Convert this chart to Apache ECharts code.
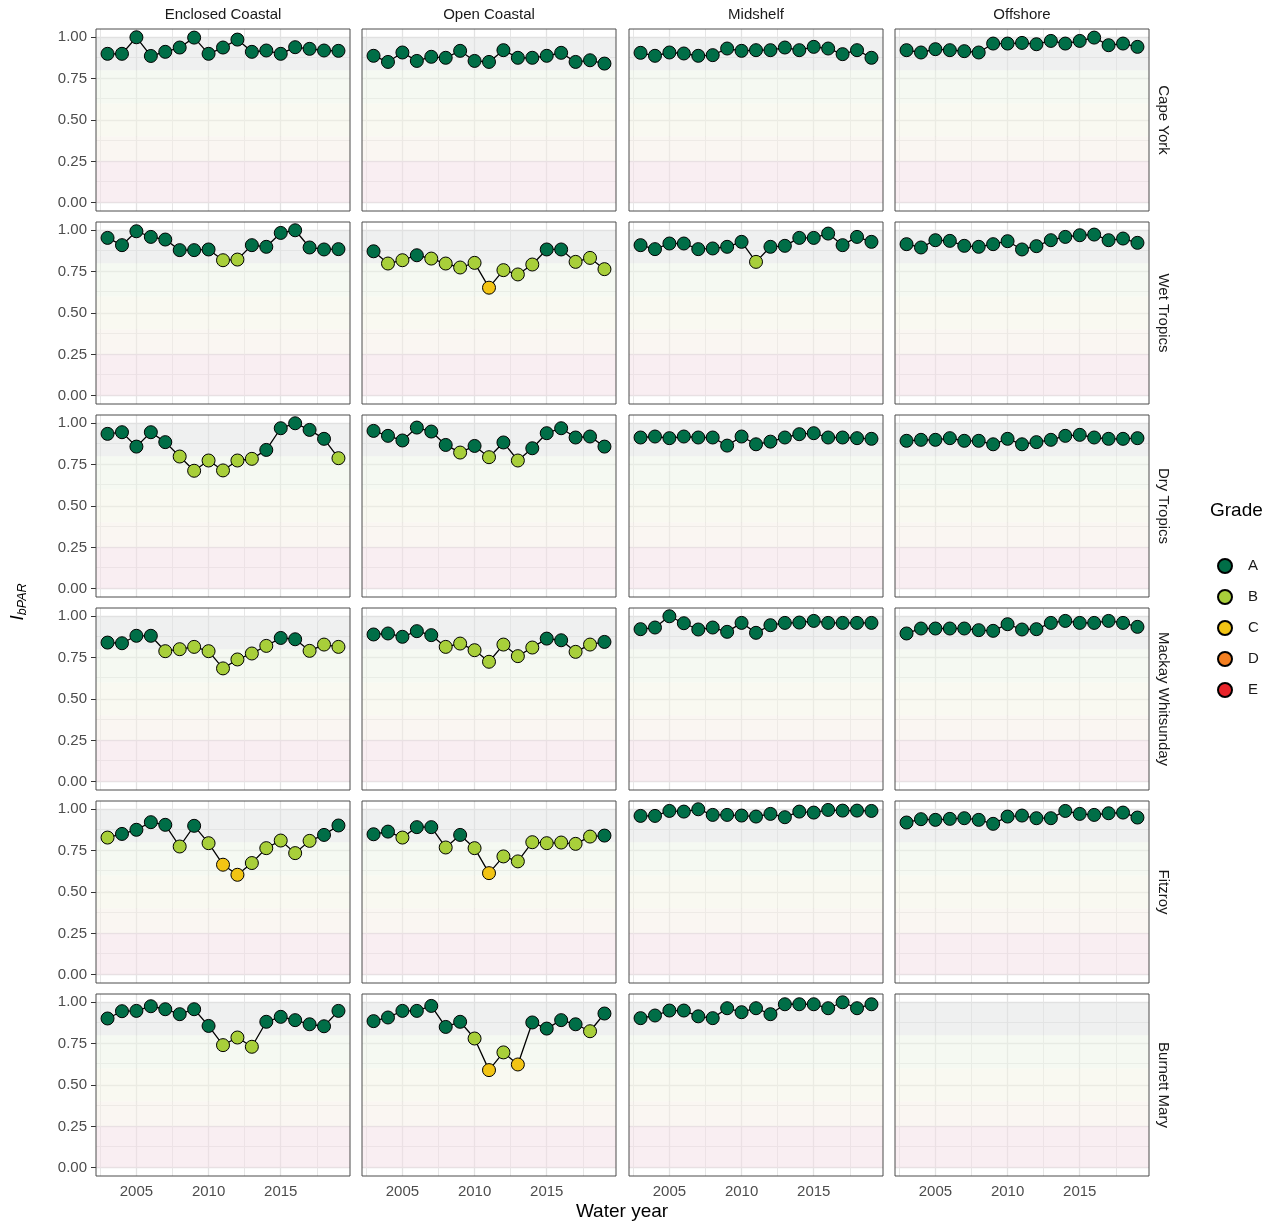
<!DOCTYPE html>
<html><head><meta charset="utf-8">
<script src="https://cdn.jsdelivr.net/npm/echarts@6/dist/echarts.min.js"></script>
<style>html,body{margin:0;padding:0;background:#fff}#c{width:1274px;height:1225px}</style>
</head><body><div id="c"></div>
<script>
// ---------- data ----------
const years = [2003,2004,2005,2006,2007,2008,2009,2010,2011,2012,2013,2014,2015,2016,2017,2018,2019];
const regions = ['Cape York','Wet Tropics','Dry Tropics','Mackay Whitsunday','Fitzroy','Burnett Mary'];
const shelves = ['Enclosed Coastal','Open Coastal','Midshelf','Offshore'];
const yTicks = [0, 0.25, 0.5, 0.75, 1];
const yMinor = [0.125, 0.375, 0.625, 0.875];
const xTicks = [2005, 2010, 2015];
const xMinor = [2002.5, 2007.5, 2012.5, 2017.5];
const gradeNames = ['A','B','C','D','E'];
const gradeColors = ['#006e47','#a8cf3a','#f2c414','#f47f20','#e8242a'];
const bandLo = [0.8, 0.6, 0.4, 0.25, 0];
const bandHi = [1.0, 0.8, 0.6, 0.4, 0.25];
const bandColors = ['rgba(224,226,226,0.5)','rgba(235,243,229,0.5)','rgba(243,243,227,0.5)','rgba(245,237,229,0.5)','rgba(243,221,229,0.5)'];

const CY_EC = [0.90,0.90,1.00,0.887,0.912,0.938,0.998,0.90,0.938,0.986,0.912,0.92,0.90,0.94,0.93,0.92,0.918];
const CY_EC_G = 'AAAAAAAAAAAAAAAAA';
const CY_OC = [0.888,0.851,0.908,0.857,0.882,0.876,0.918,0.857,0.851,0.922,0.876,0.876,0.888,0.906,0.851,0.861,0.841];
const CY_OC_G = 'AAAAAAAAAAAAAAAAA';
const CY_MS = [0.906,0.888,0.908,0.902,0.888,0.892,0.932,0.918,0.922,0.922,0.938,0.922,0.942,0.932,0.898,0.922,0.876];
const CY_MS_G = 'AAAAAAAAAAAAAAAAA';
const CY_OS = [0.922,0.908,0.928,0.922,0.916,0.908,0.962,0.962,0.966,0.958,0.978,0.962,0.978,0.998,0.952,0.962,0.942];
const CY_OS_G = 'AAAAAAAAAAAAAAAAA';

const WT_EC = [0.954,0.910,0.994,0.960,0.944,0.880,0.880,0.884,0.819,0.823,0.910,0.900,0.984,1.000,0.896,0.884,0.886];
const WT_EC_G = 'AAAAAAAABBAAAAAAA';
const WT_OC = [0.873,0.799,0.819,0.849,0.829,0.799,0.775,0.803,0.653,0.759,0.733,0.793,0.884,0.884,0.809,0.833,0.765];
const WT_OC_G = 'ABBABBBBCBBBAABBB';
const WT_MS = [0.910,0.886,0.920,0.920,0.886,0.890,0.900,0.930,0.809,0.900,0.906,0.954,0.954,0.980,0.910,0.960,0.930];
const WT_MS_G = 'AAAAAAAABAAAAAAAA';
const WT_OS = [0.916,0.896,0.940,0.936,0.906,0.900,0.916,0.934,0.884,0.904,0.940,0.960,0.970,0.974,0.940,0.950,0.924];
const WT_OS_G = 'AAAAAAAAAAAAAAAAA';

const DT_EC = [0.936,0.946,0.859,0.946,0.886,0.799,0.713,0.775,0.715,0.775,0.785,0.839,0.970,1.000,0.960,0.906,0.789];
const DT_EC_G = 'AAAAABBBBBBAAAAAB';
const DT_OC = [0.954,0.924,0.896,0.974,0.950,0.869,0.823,0.863,0.795,0.884,0.775,0.849,0.940,0.970,0.914,0.920,0.859];
const DT_OC_G = 'AAAAAABABABAAAAAA';
const DT_MS = [0.914,0.920,0.910,0.920,0.914,0.914,0.865,0.920,0.873,0.889,0.914,0.934,0.940,0.914,0.914,0.910,0.906];
const DT_MS_G = 'AAAAAAAAAAAAAAAAA';
const DT_OS = [0.894,0.900,0.900,0.910,0.894,0.894,0.873,0.906,0.873,0.886,0.900,0.924,0.930,0.914,0.906,0.906,0.910];
const DT_OS_G = 'AAAAAAAAAAAAAAAAA';

const MW_EC = [0.841,0.837,0.882,0.882,0.789,0.801,0.815,0.789,0.685,0.739,0.775,0.821,0.869,0.861,0.791,0.829,0.815];
const MW_EC_G = 'AAAABBBBBBBBAABBB';
const MW_OC = [0.890,0.896,0.876,0.910,0.886,0.815,0.835,0.795,0.725,0.829,0.759,0.811,0.865,0.855,0.785,0.829,0.845];
const MW_OC_G = 'AAAAABBBBBBBAABBA';
const MW_MS = [0.922,0.932,1.000,0.958,0.920,0.932,0.906,0.960,0.900,0.946,0.960,0.962,0.972,0.960,0.960,0.960,0.960];
const MW_MS_G = 'AAAAAAAAAAAAAAAAA';
const MW_OS = [0.896,0.926,0.926,0.926,0.926,0.916,0.912,0.952,0.920,0.922,0.960,0.972,0.960,0.960,0.972,0.960,0.936];
const MW_OS_G = 'AAAAAAAAAAAAAAAAA';

const FZ_EC = [0.829,0.851,0.876,0.922,0.906,0.775,0.900,0.795,0.665,0.604,0.675,0.765,0.811,0.735,0.809,0.845,0.902];
const FZ_EC_G = 'BAAAABABCCBBBBBAA';
const FZ_OC = [0.849,0.865,0.829,0.892,0.892,0.769,0.845,0.765,0.614,0.715,0.685,0.801,0.795,0.799,0.791,0.835,0.841];
const FZ_OC_G = 'AABAABABCBBBBBBBA';
const FZ_MS = [0.960,0.960,0.990,0.986,1.000,0.966,0.966,0.962,0.956,0.972,0.952,0.986,0.980,0.996,0.992,0.992,0.990];
const FZ_MS_G = 'AAAAAAAAAAAAAAAAA';
const FZ_OS = [0.920,0.940,0.936,0.942,0.946,0.936,0.912,0.956,0.962,0.946,0.946,0.990,0.972,0.966,0.976,0.980,0.950];
const FZ_OS_G = 'AAAAAAAAAAAAAAAAA';

const BM_EC = [0.902,0.946,0.948,0.976,0.958,0.928,0.958,0.857,0.741,0.787,0.731,0.882,0.912,0.892,0.867,0.855,0.948];
const BM_EC_G = 'AAAAAAAABBBAAAAAA';
const BM_OC = [0.886,0.908,0.948,0.948,0.978,0.851,0.882,0.781,0.590,0.697,0.624,0.878,0.841,0.892,0.867,0.825,0.932];
const BM_OC_G = 'AAAAAAABCBCAAAABA';
const BM_MS = [0.904,0.920,0.950,0.950,0.915,0.904,0.964,0.940,0.964,0.928,0.988,0.988,0.988,0.964,1.000,0.964,0.988];
const BM_MS_G = 'AAAAAAAAAAAAAAAAA';
const BM_OS = [];
const BM_OS_G = '';

const panelValues = [
  [CY_EC, CY_OC, CY_MS, CY_OS],
  [WT_EC, WT_OC, WT_MS, WT_OS],
  [DT_EC, DT_OC, DT_MS, DT_OS],
  [MW_EC, MW_OC, MW_MS, MW_OS],
  [FZ_EC, FZ_OC, FZ_MS, FZ_OS],
  [BM_EC, BM_OC, BM_MS, BM_OS]
];
const panelGrades = [
  [CY_EC_G, CY_OC_G, CY_MS_G, CY_OS_G],
  [WT_EC_G, WT_OC_G, WT_MS_G, WT_OS_G],
  [DT_EC_G, DT_OC_G, DT_MS_G, DT_OS_G],
  [MW_EC_G, MW_OC_G, MW_MS_G, MW_OS_G],
  [FZ_EC_G, FZ_OC_G, FZ_MS_G, FZ_OS_G],
  [BM_EC_G, BM_OC_G, BM_MS_G, BM_OS_G]
];

// ---------- layout ----------
const FONT = '"Liberation Sans", Arial, Helvetica, sans-serif';
const colLeft = [96, 362, 629, 895];
const rowTop = [29, 222, 415, 608, 801, 994];
const PW = 254, PH = 182;

const grids = [], xAxes = [], yAxes = [], series = [], graphics = [];
const gradeSeen = {};

for (let r = 0; r < regions.length; r++) {
  for (let c = 0; c < shelves.length; c++) {
    const idx = grids.length;
    const isBottom = r === regions.length - 1;
    const isLeft = c === 0;
    grids.push({left: colLeft[c], top: rowTop[r], width: PW, height: PH, show: true, z: 10,
      backgroundColor: 'transparent', borderColor: '#4d4d4d', borderWidth: 1});
    xAxes.push({gridIndex: idx, type: 'value', min: 2002.2, max: 2019.8,
      axisLine: {show: false}, splitLine: {show: false},
      axisTick: {show: isBottom, customValues: xTicks, length: 5, lineStyle: {color: '#333', width: 1}},
      axisLabel: {show: isBottom, customValues: xTicks, margin: 8, color: '#4d4d4d', fontSize: 15, fontFamily: FONT,
        formatter: v => String(Math.round(v))}});
    yAxes.push({gridIndex: idx, type: 'value', min: -0.05, max: 1.05,
      axisLine: {show: false}, splitLine: {show: false},
      axisTick: {show: isLeft, customValues: yTicks, length: 5, lineStyle: {color: '#333', width: 1}},
      axisLabel: {show: isLeft, customValues: yTicks, margin: 9, color: '#4d4d4d', fontSize: 15, fontFamily: FONT,
        formatter: v => v.toFixed(2)}});

    // grid lines
    const gl = [];
    yTicks.forEach(v => gl.push({yAxis: v, lineStyle: {color: '#e2e2e2', width: 1.3, type: 'solid'}}));
    yMinor.forEach(v => gl.push({yAxis: v, lineStyle: {color: '#e6e6e6', width: 1, type: 'solid'}}));
    xTicks.forEach(v => gl.push({xAxis: v, lineStyle: {color: '#e2e2e2', width: 1.3, type: 'solid'}}));
    xMinor.forEach(v => gl.push({xAxis: v, lineStyle: {color: '#e6e6e6', width: 1, type: 'solid'}}));
    series.push({type: 'line', xAxisIndex: idx, yAxisIndex: idx, data: [], z: 1, silent: true,
      markLine: {z: 1, silent: true, symbol: ['none','none'], label: {show: false}, animation: false, data: gl}});
    // grade bands
    series.push({type: 'line', xAxisIndex: idx, yAxisIndex: idx, data: [], z: 2, silent: true,
      markArea: {z: 2, silent: true, animation: false, label: {show: false},
        data: bandLo.map((lo, i) => [{yAxis: lo, itemStyle: {color: bandColors[i]}}, {yAxis: bandHi[i]}])}});

    const vals = panelValues[r][c];
    const grs = panelGrades[r][c];
    if (vals.length) {
      series.push({type: 'line', name: 'trend', xAxisIndex: idx, yAxisIndex: idx, z: 3, silent: true,
        symbol: 'none', lineStyle: {color: '#000', width: 1.3},
        data: vals.map((v, i) => [years[i], v])});
      gradeNames.forEach((g, gi) => {
        const pts = [];
        vals.forEach((v, i) => { if (grs[i] === g) pts.push([years[i], v]); });
        if (pts.length) {
          gradeSeen[g] = true;
          series.push({type: 'scatter', name: g, xAxisIndex: idx, yAxisIndex: idx, z: 4,
            symbol: 'circle', symbolSize: 13, data: pts,
            itemStyle: {color: gradeColors[gi], borderColor: '#000', borderWidth: 1, opacity: 1}});
        }
      });
    }
  }
}
// ensure every grade exists for the legend
gradeNames.forEach((g, gi) => {
  if (!gradeSeen[g]) series.push({type: 'scatter', name: g, xAxisIndex: 0, yAxisIndex: 0, z: 4,
    symbol: 'circle', symbolSize: 13, data: [],
    itemStyle: {color: gradeColors[gi], borderColor: '#000', borderWidth: 1, opacity: 1}});
});

// strip labels
shelves.forEach((s, c) => graphics.push({type: 'text', x: colLeft[c] + PW / 2, y: 15,
  style: {text: s, fill: '#1a1a1a', font: '15px ' + FONT, align: 'center', verticalAlign: 'middle'}}));
regions.forEach((s, r) => graphics.push({type: 'text', x: 1163, y: rowTop[r] + PH / 2, rotation: -Math.PI / 2,
  style: {text: s, fill: '#1a1a1a', font: '15px ' + FONT, align: 'center', verticalAlign: 'middle'}}));
// axis titles
graphics.push({type: 'text', x: 622, y: 1212,
  style: {text: 'Water year', fill: '#000', font: '19px ' + FONT, align: 'center', verticalAlign: 'middle'}});
graphics.push({type: 'text', x: 18, y: 602, rotation: Math.PI / 2,
  style: {text: '{i|I}{s|bPAR}', align: 'center', verticalAlign: 'middle',
    rich: {i: {fontSize: 19, fontStyle: 'italic', fontFamily: FONT, fill: '#000', color: '#000'},
           s: {fontSize: 12.5, fontStyle: 'italic', fontFamily: FONT, fill: '#000', color: '#000', padding: [10, 0, 0, 0]}}}});
// legend title
graphics.push({type: 'text', x: 1210, y: 511,
  style: {text: 'Grade', fill: '#000', font: '19px ' + FONT, align: 'left', verticalAlign: 'middle'}});

const chart = echarts.init(document.getElementById('c'), null, {renderer: 'canvas', width: 1274, height: 1225});
chart.setOption({
  animation: false,
  backgroundColor: '#ffffff',
  grid: grids, xAxis: xAxes, yAxis: yAxes, series: series,
  legend: {data: gradeNames, orient: 'vertical', left: 1212, top: 553, itemWidth: 26, itemHeight: 14, itemGap: 15,
    icon: 'circle', selectedMode: false, textStyle: {fontSize: 15, color: '#1a1a1a', fontFamily: FONT, padding: [0,0,0,5]}},
  graphic: graphics
});
</script></body></html>
